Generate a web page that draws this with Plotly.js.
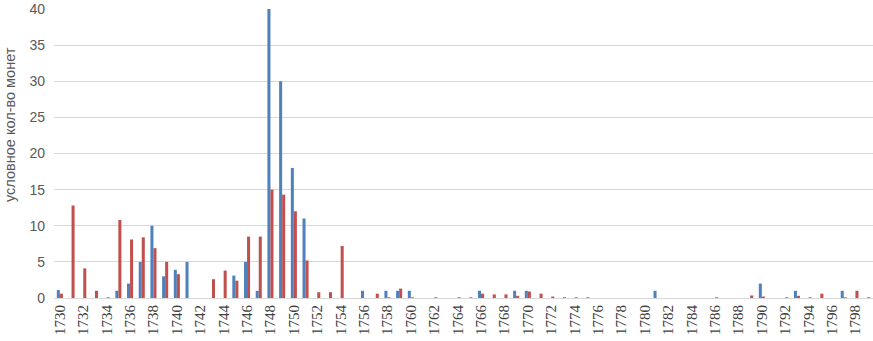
<!DOCTYPE html>
<html>
<head>
<meta charset="utf-8">
<script src="https://cdn.plot.ly/plotly-3.0.1.min.js"></script>
<style>html,body{margin:0;padding:0;background:#fff;}#chart{width:873px;height:341px;}</style>
</head>
<body>
<div id="chart"></div>
<script>
const years = [];
for (let y = 1730; y <= 1799; y++) years.push(y);

const blueValues = [
  1.1, 0, 0, 0, 0, 1.0, 2.0, 5.0, 10.0, 3.0,
  3.9, 5.0, 0, 0, 0, 3.1, 5.0, 1.0, 40, 30,
  18, 11, 0, 0, 0, 0, 1.0, 0, 1.0, 1.0,
  1.0, 0, 0, 0, 0, 0, 1.0, 0, 0, 1.0,
  1.0, 0, 0, 0, 0, 0, 0, 0, 0, 0,
  0, 1.0, 0, 0, 0, 0, 0, 0, 0, 0,
  2.0, 0, 0, 1.0, 0, 0, 0, 1.0, 0, 0
];
const redValues = [
  0.6, 12.8, 4.1, 1.0, 0.1, 10.8, 8.1, 8.4, 6.9, 5.0,
  3.3, 0, 0, 2.6, 3.8, 2.4, 8.5, 8.5, 15.0, 14.3,
  12.0, 5.2, 0.8, 0.8, 7.2, 0, 0, 0.6, 0.1, 1.3,
  0.1, 0, 0.1, 0, 0.1, 0.1, 0.6, 0.5, 0.5, 0.3,
  0.9, 0.6, 0.2, 0.1, 0.1, 0.1, 0, 0, 0, 0,
  0, 0, 0, 0, 0, 0, 0.1, 0, 0, 0.35,
  0.2, 0, 0.1, 0.3, 0.1, 0.6, 0, 0.1, 1.0, 0.1
];
const tickYears = years.filter(y => (y - 1730) % 2 === 0);
const yTicks = [0, 5, 10, 15, 20, 25, 30, 35, 40];
const yTitle = 'условное кол-во монет';

const traces = [
  {type: 'bar', x: years, y: blueValues, marker: {color: '#4F81BD'}, name: 'A'},
  {type: 'bar', x: years, y: redValues, marker: {color: '#C0504D'}, name: 'B'}
];

const layout = {
  width: 873, height: 341,
  margin: {l: 54, r: 0, t: 9, b: 43},
  paper_bgcolor: '#fff', plot_bgcolor: '#fff',
  showlegend: false,
  barmode: 'group', bargap: 0.48, bargroupgap: 0,
  xaxis: {
    range: [1729.5, 1799.5],
    tickvals: tickYears,
    ticktext: tickYears.map(String),
    tickangle: -90,
    tickfont: {family: 'Liberation Serif, serif', size: 15, color: '#404040'},
    showgrid: false, zeroline: false,
    showline: true, linecolor: '#D9D9D9', linewidth: 1,
    ticks: '', fixedrange: true
  },
  yaxis: {
    range: [0, 40],
    tickmode: 'array', tickvals: yTicks, ticktext: yTicks.map(String),
    ticklabeloverflow: 'allow',
    tickfont: {family: 'Liberation Sans, Arial, sans-serif', size: 14, color: '#595959'},
    gridcolor: '#D9D9D9', gridwidth: 1,
    zeroline: false, showline: false, ticks: '',
    ticklen: 0, ticklabelstandoff: 8
  },
  annotations: [{
    text: yTitle, textangle: -90, showarrow: false,
    xref: 'paper', yref: 'paper', x: -0.0545, y: 0.6, xanchor: 'center', yanchor: 'middle',
    font: {family: 'Liberation Sans, Arial, sans-serif', size: 14.5, color: '#595959'}
  }]
};

Plotly.newPlot('chart', traces, layout, {staticPlot: true, displayModeBar: false});
</script>
</body>
</html>
